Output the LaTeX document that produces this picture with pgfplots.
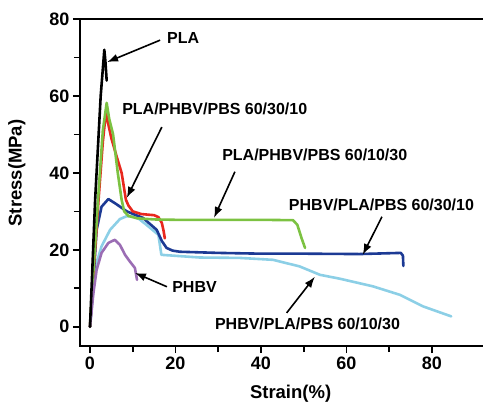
\documentclass[border=0pt]{standalone}
\usepackage{fontspec}
\setmainfont{Liberation Sans}
\usepackage{pgfplots}
\pgfplotsset{compat=1.18}
\usetikzlibrary{arrows.meta}
\definecolor{cred}{HTML}{E8281E}
\definecolor{cgreen}{HTML}{7CC242}
\definecolor{cdblue}{HTML}{1C3A94}
\definecolor{clblue}{HTML}{8CCFE6}
\definecolor{cpurple}{HTML}{9B6DB4}
\begin{document}
\begin{tikzpicture}
\useasboundingbox (-80pt,-59pt) rectangle (403pt,346pt);
\begin{axis}[
  scale only axis, width=405pt, height=327pt,
  xmin=-2.34, xmax=92.4, ymin=-5, ymax=80,
  xtick={0,20,40,60,80}, ytick={0,20,40,60,80},
  minor tick num=1,
  xtick pos=bottom, ytick pos=left,
  tick align=outside,
  major tick length=7pt, minor tick length=6pt,
  every tick/.style={line width=1.6pt, black},
  axis line style={line width=1.8pt},
  /pgf/number format/assume math mode=true,
  ticklabel style={font=\fontsize{18}{21}\selectfont\bfseries},
  xlabel={Strain(\%)}, ylabel={Stress(MPa)},
  label style={font=\fontsize{18.5}{21}\selectfont\bfseries},
  xlabel style={at={(axis description cs:0.52,-0.147)}, anchor=center},
  ylabel style={at={(axis description cs:-0.156,0.529)}, anchor=center},
  every axis plot/.append style={line width=2.6pt, line join=round, line cap=round},
  clip=false,
]
% light blue PHBV/PLA/PBS 60/10/30
\addplot[clblue] coordinates {(0,0) (0.8,10) (1.55,16.6) (2.7,20.9) (4.7,25.2) (7,28) (8.5,28.7) (10,28.8) (11.5,28) (13.2,26.5) (16,23.9) (16.7,18.7) (25.7,18.0) (35,17.9) (42.8,17.4) (49,15.7) (53.8,13.5) (58.4,12.5) (66.2,10.5) (72.5,8.3) (77.9,5.3) (84.5,2.7)};
% dark blue PHBV/PLA/PBS 60/30/10
\addplot[cdblue] coordinates {(0,0) (0.8,12.2) (1.55,25.2) (2.7,31.2) (4.3,33.2) (6,32) (8.6,30) (12.4,28.3) (15.6,25.2) (16.8,22.3) (17.9,20.5) (19.3,19.8) (21,19.5) (30,19.2) (40,19) (50,19) (63,18.9) (72.7,19.2) (73.2,18.5) (73.3,15.8)};
% red PLA/PHBV/PBS 60/30/10
\addplot[cred] coordinates {(0,0) (1,17) (2,33) (3,48) (3.7,55.6) (5,49) (6.3,44) (7.4,40) (8.4,33) (9,31.5) (10,30) (12,29.3) (15,29) (16,28.5) (16.8,27) (17.2,25) (17.5,23)};
% green PLA/PHBV/PBS 60/10/30
\addplot[cgreen] coordinates {(0,0) (1,18) (2,35) (3,51) (3.9,58.2) (4.5,54) (5.4,50) (6.5,40) (7.4,33) (8,30) (9,28.8) (11,28.2) (15,27.9) (20,27.8) (30,27.8) (40,27.8) (47.5,27.7) (48.5,26.5) (49.5,23) (50.3,20.5)};
% purple PHBV
\addplot[cpurple] coordinates {(0,0) (0.8,8.8) (1.55,14.8) (2.7,19.2) (4.3,21.8) (5.8,22.6) (7,21.3) (8.2,18.7) (9.3,17) (10.5,15.3) (11,12.2)};
% black PLA
\addplot[black] coordinates {(0,0) (1.2,33) (2.5,60) (3.35,72) (3.6,69) (3.9,64)};

\begin{scope}[font=\fontsize{16}{19}\selectfont\bfseries, every node/.style={inner sep=0pt}]
\node[anchor=west] at (axis cs:18,75.1) {PLA};
\node[anchor=west] at (axis cs:7.5,56.6) {PLA/PHBV/PBS 60/30/10};
\node[anchor=west] at (axis cs:30.9,44.7) {PLA/PHBV/PBS 60/10/30};
\node[anchor=west] at (axis cs:46.5,31.7) {PHBV/PLA/PBS 60/30/10};
\node[anchor=west] at (axis cs:19.2,10.4) {PHBV};
\node[anchor=west] at (axis cs:29.2,0.8) {PHBV/PLA/PBS 60/10/30};
\end{scope}
\begin{scope}[line width=1.6pt, -{Latex[length=11pt,width=8pt]}]
\draw (axis cs:16.4,74.5) -- (axis cs:4.0,68.8);
\draw (axis cs:16.8,51.9) -- (axis cs:8.6,33.5);
\draw (axis cs:33.9,40.3) -- (axis cs:29.0,28.3);
\draw (axis cs:68.3,28.6) -- (axis cs:63.8,18.7);
\draw (axis cs:18.0,10.4) -- (axis cs:10.5,14.0);
\draw (axis cs:46.0,3.6) -- (axis cs:52.6,13.0);
\end{scope}
\end{axis}
\end{tikzpicture}
\end{document}
